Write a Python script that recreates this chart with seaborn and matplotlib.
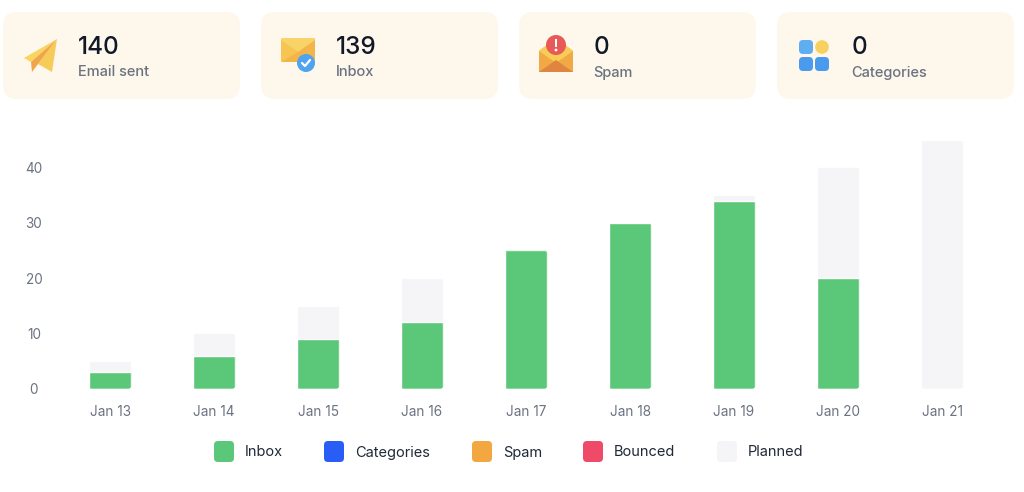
import matplotlib
matplotlib.use('Agg')
import matplotlib.pyplot as plt
import pandas as pd
import seaborn as sns
from matplotlib.patches import Circle, FancyBboxPatch, Polygon, Rectangle

days = ['Jan 13', 'Jan 14', 'Jan 15', 'Jan 16', 'Jan 17', 'Jan 18', 'Jan 19', 'Jan 20', 'Jan 21']
inbox = [3, 6, 9, 12, 25, 30, 34, 20, 0]
planned = [5, 10, 15, 20, 25, 30, 35, 40, 45]
y_ticks = [0, 10, 20, 30, 40]

card_values = ['140', '139', '0', '0']
card_labels = ['Email sent', 'Inbox', 'Spam', 'Categories']
legend_names = ['Inbox', 'Categories', 'Spam', 'Bounced', 'Planned']
legend_colors = ['#5ac878', '#2a5cf6', '#f2a740', '#ef4b68', '#f5f5f7']

W, H = 1024, 492
PLANNED_COLOR = '#f5f5f7'
INBOX_COLOR = '#5ac878'

sns.set_theme(style='white')
plt.rcParams['font.family'] = ['Inter', 'DejaVu Sans']

fig = plt.figure(figsize=(W / 100, H / 100), dpi=100)

# overlay in pixel coordinates for cards, icons, legend
bg = fig.add_axes([0, 0, 1, 1])
bg.set_xlim(0, W)
bg.set_ylim(H, 0)
bg.axis('off')


def round_box(ax, x, y, w, h, r, color, z=2):
    p = FancyBboxPatch((x + r, y + r), w - 2 * r, h - 2 * r, boxstyle=f'round,pad={r},rounding_size={r}',
                       fc=color, ec='none', zorder=z)
    ax.add_patch(p)
    return p


def icon_plane(ax):
    ax.add_patch(Polygon([(57, 39), (24, 58), (31, 62)], fc='#f9d45f', ec='none', zorder=3))
    ax.add_patch(Polygon([(57, 39), (38, 64), (52, 72)], fc='#f6cc58', ec='none', zorder=3))
    ax.add_patch(Polygon([(57, 39), (31, 62), (32, 72), (38, 64)], fc='#f0a648', ec='none', zorder=4))


def icon_inbox(ax):
    round_box(ax, 281, 38, 34, 24, 2, '#f3b54a', 3)
    ax.add_patch(Polygon([(281, 40), (298, 52), (281, 62)], fc='#f6c552', ec='none', zorder=4))
    ax.add_patch(Polygon([(282, 38), (314, 38), (315, 40), (298, 52), (281, 40)], fc='#f8d468', ec='none', zorder=4))
    ax.add_patch(Circle((306, 63), 9, fc='#4fa3ef', ec='none', zorder=5))
    ax.plot([302, 305, 310], [63, 66, 60], color='white', lw=1.6, zorder=6)


def icon_spam(ax):
    ax.add_patch(Polygon([(539, 51), (556, 38), (573, 51), (573, 72), (539, 72)], fc='#f0a945', ec='none', zorder=3))
    ax.add_patch(Polygon([(539, 51), (556, 38), (573, 51), (556, 63)], fc='#f8cd55', ec='none', zorder=3))
    ax.add_patch(Circle((556, 45), 10, fc='#e85a57', ec='none', zorder=4))
    ax.add_patch(Rectangle((554.8, 39), 2.4, 7.5, fc='white', ec='none', zorder=5))
    ax.add_patch(Circle((556, 50), 1.4, fc='white', ec='none', zorder=5))
    ax.add_patch(Polygon([(539, 72), (556, 60), (573, 72)], fc='#df8540', ec='none', zorder=5))


def icon_categories(ax):
    round_box(ax, 799, 40, 14, 14, 4, '#5faef2', 3)
    ax.add_patch(Circle((822, 47), 6.8, fc='#f8d05f', ec='none', zorder=3))
    round_box(ax, 799, 57, 14, 14, 4, '#4a9bee', 3)
    round_box(ax, 815, 57, 14, 14, 4, '#4a9bee', 3)


card_text_x = [78, 335.5, 593.5, 851.5]
for i, (val, lab) in enumerate(zip(card_values, card_labels)):
    x0 = 3 + i * 258
    round_box(bg, x0, 12, 237, 87, 14, '#fef7ec', 1)
    bg.text(card_text_x[i], 47, val, fontsize=17.5, fontweight=500, color='#111827', va='center', ha='left')
    bg.text(card_text_x[i], 72.5, lab, fontsize=10.5, fontweight=500, color='#6b7280', va='center', ha='left')

icon_plane(bg)
icon_inbox(bg)
icon_spam(bg)
icon_categories(bg)

# legend
legend_x = [214, 324, 472, 583, 717]
for x, name, col in zip(legend_x, legend_names, legend_colors):
    round_box(bg, x, 441, 20, 21, 4, col, 2)
    bg.text(x + 31, 452.5, name, fontsize=10.5, color='#1f2937', va='center', ha='left')

# chart axes, pixel box chosen so that 0 sits at y=389 and 45 at y=140
ax = fig.add_axes([58 / W, 1 - 388.8 / H, 936 / W, 249 / H])
ax.patch.set_alpha(0)
df = pd.DataFrame({'day': days, 'inbox': inbox, 'planned': planned})
sns.barplot(data=df, x='day', y='planned', color=PLANNED_COLOR, width=0.41, saturation=1, ax=ax)
sns.barplot(data=df, x='day', y='inbox', color=INBOX_COLOR, width=0.41, saturation=1, ax=ax)

# rounded corners: clip both layers to the full bar outline
n = len(days)
for k, bar in enumerate(ax.patches):
    outer = ax.patches[k % n]
    clip = FancyBboxPatch((outer.get_x(), 0), outer.get_width(), outer.get_height(),
                          boxstyle='round,pad=0,rounding_size=0.03', mutation_aspect=18.8,
                          transform=ax.transData, fc='none', ec='none', clip_on=False)
    ax.add_artist(clip)
    bar.set_clip_path(clip)

ax.set_xlim(-0.5, 8.5)
ax.set_ylim(0, 45)
ax.set_xlabel('')
ax.set_ylabel('')
ax.set_yticks(y_ticks)
for s in ax.spines.values():
    s.set_visible(False)
ax.tick_params(axis='both', length=0, labelsize=9.8, labelcolor='#6b7280')
ax.tick_params(axis='x', pad=11.5)
ax.tick_params(axis='y', pad=0)
for t in ax.get_yticklabels():
    t.set_ha('center')
    t.set_x(-24 / 936)

fig.savefig('out.png', dpi=100, facecolor='white')
